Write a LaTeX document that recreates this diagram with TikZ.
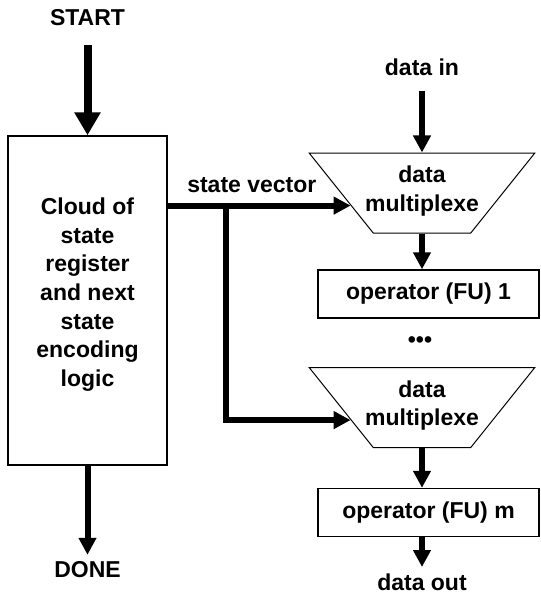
\documentclass[tikz,border=0pt]{standalone}
\usepackage{fontspec}
\setmainfont{Liberation Sans}
\usetikzlibrary{shapes.geometric,arrows.meta}

\tikzstyle{block} = [draw, rectangle, line width=0.7pt, align=center]
\tikzstyle{mux} = [draw, trapezium, line width=0.5pt, inner sep=3.33pt,
  trapezium left angle=56.7, trapezium right angle=56.7, shape border rotate=180,
  trapezium stretches=true, minimum width=113pt, minimum height=40pt]
\tikzstyle{op} = [draw, rectangle, line width=0.7pt, minimum width=110.5pt, minimum height=24pt]
\tikzstyle{txt} = [inner sep=3.33pt, align=center]
\tikzstyle{arrow} = [->, line width=3pt]
\tikzstyle{bigarrow} = [-{Triangle[length=11.5pt,width=12.5pt]}, line width=4pt]

\begin{document}
\begin{tikzpicture}[>={Triangle[length=8.5pt,width=8.5pt]},
  font=\bfseries\fontsize{11.5}{14.3}\selectfont]
\useasboundingbox (0,0) rectangle (270.5pt,-297.5pt);

\node[block, minimum width=79.5pt, minimum height=164.5pt] (box) at (43.75pt,-150.25pt)
  {Cloud of\\state\\register\\and next\\state\\encoding\\logic\\[-6pt]};
\node[txt, above of=box, node distance=141.25pt] (start) {START};
\node[txt, below of=box, node distance=134.75pt] (done) {DONE};

\node[txt] (datain) at (211pt,-33.5pt) {data in};
\node[mux, below of=datain, node distance=63pt] (mux1) {};
\node[txt, yshift=1pt] (mux1txt) at (mux1) {data\\multiplexe};
\node[op, below of=mux1, node distance=50.5pt, xshift=3.25pt] (op1) {operator (FU) 1};
\node[txt, below of=op1, node distance=24pt, xshift=-4.25pt] (dots) {\textbullet\textbullet\textbullet};
\node[mux, below of=mux1, node distance=107.25pt] (mux2) {};
\node[txt, yshift=1pt] (mux2txt) at (mux2) {data\\multiplexe};
\node[op, below of=op1, node distance=109.25pt] (op2) {operator (FU) m};
\node[txt, below of=mux2, node distance=87.5pt] (dataout) {data out};

\draw[bigarrow, shorten <=6pt] (start) -- (box);
\draw[arrow] (box) -- (done);
\draw[arrow, shorten <=4pt] (datain) -- (mux1);
\draw[arrow] (mux1.south) -- (mux1.south |- op1.north);
\draw[arrow] (mux2.south) -- (mux2.south |- op2.north);
\draw[arrow] (dataout |- op2.south) -- (dataout);

% state vector to both multiplexers
\draw[arrow] (box.east |- mux1.190) -- node[txt, above=1.5pt, pos=0.46] (svlabel) {state vector} (mux1.190);
\path (box.east |- mux1.190) ++(29pt,0) coordinate (branch);
\draw[arrow] (branch) |- (mux2.190);

\end{tikzpicture}
\end{document}
